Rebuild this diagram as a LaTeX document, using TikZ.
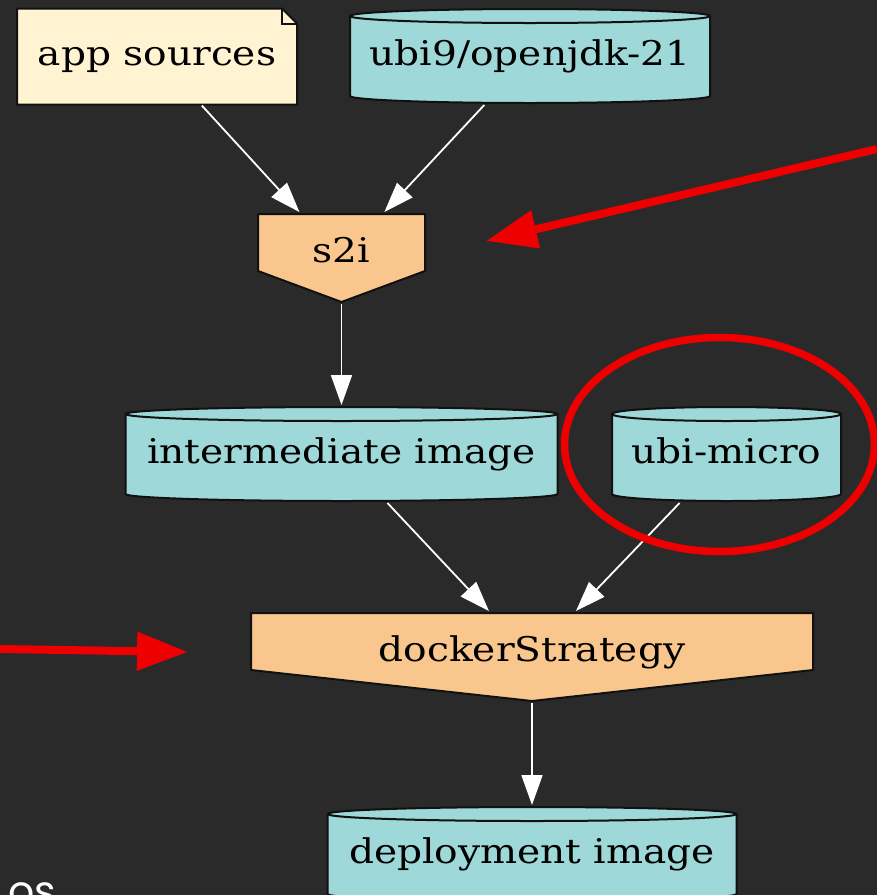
\documentclass[tikz,border=0pt]{standalone}
\usepackage{fontspec}
\setmainfont{DejaVu Serif}[FakeStretch=1.15]
\newfontfamily\captionfont{Poppins}
\usetikzlibrary{arrows.meta}

\definecolor{bgcol}{HTML}{2A2A2A}
\definecolor{imgfill}{HTML}{9FD8D8}
\definecolor{srcfill}{HTML}{FFF3D1}
\definecolor{buildfill}{HTML}{F9C78D}
\definecolor{edgecol}{HTML}{111111}
\definecolor{annot}{HTML}{EE0000}

\begin{document}
\begin{tikzpicture}[
  x=1pt, y=1pt,
  >={Triangle[length=30pt,width=21pt]},
  every node/.style={
  	inner sep=0pt,
  	outer sep=0pt,
  	text height=26pt,
  	text depth=8pt,
  	font=\fontsize{34}{40}\selectfont
  },
  image/.style={
  	minimum width=#1,
  	minimum height=98,
  	path picture={
  	  \coordinate (pp) at (path picture bounding box.center);
  	  \filldraw[fill=imgfill, draw=edgecol, line width=2]
  	    ([shift={(-#1/2+1,40)}]pp) -- ++(0,-80)
  	    arc[start angle=180, end angle=360, x radius=#1/2-1, y radius=7]
  	    -- ++(0,80)
  	    arc[start angle=0, end angle=180, x radius=#1/2-1, y radius=7] -- cycle;
  	  \draw[edgecol, line width=2] ([shift={(-#1/2+1,40)}]pp)
  	    arc[start angle=180, end angle=360, x radius=#1/2-1, y radius=7];
  	}
  },
  source/.style={
  	minimum width=#1,
  	minimum height=98,
  	path picture={
  	  \coordinate (pp) at (path picture bounding box.center);
  	  \filldraw[fill=srcfill, draw=edgecol, line width=2]
  	    ([shift={(-#1/2+1,48)}]pp) -- ++(#1-17,0) -- ++(15,-15)
  	    |- ([shift={(-#1/2+1,-48)}]pp) -- cycle;
  	  \draw[edgecol, line width=2]
  	    ([shift={(#1/2-16,48)}]pp) |- ++(15,-15);
  	}
  },
  build/.style={
  	minimum width=#1,
  	minimum height=92,
  	text depth=18pt,
  	path picture={
  	  \coordinate (pp) at (path picture bounding box.center);
  	  \filldraw[fill=buildfill, draw=edgecol, line width=2]
  	    ([shift={(-#1/2+1,44)}]pp) -- ++(#1-2,0) -- ++(0,-57)
  	    -- ([yshift=-44]pp) -- ([shift={(-#1/2+1,-13)}]pp) -- cycle;
  	}
  },
  flow/.style={
  	->,
  	white,
  	line width=1.8
  },
  marker/.style={
  	annot,
  	line width=8,
  	-{Triangle[length=51pt,width=37pt]}
  }
  ]
  \useasboundingbox (0,0) rectangle (877,-895);
  \clip (0,0) rectangle (877,-895);
  \fill[bgcol] (0,0) rectangle (877,-895);
  
  \node[source=282] (src) at (157,-56.5) {app sources};
  \node[image=362] (jdk) at (530,-56) {ubi9/openjdk-21};
  \node[build=169] (s2i) at (341.5,-258) {s2i};
  \node[image=434] (mid) at (341.5,-454) {intermediate image};
  \node[image=231] (micro) at (726.5,-454) {ubi-micro};
  \node[build=564] (docker) at (532,-657) {dockerStrategy};
  \node[image=411] (deploy) at (532,-854) {deployment image};
  
  \draw[flow] (src) -- (s2i);
  \draw[flow] (jdk) -- (s2i);
  \draw[flow] (s2i) -- (mid);
  \draw[flow] (mid) -- (docker);
  \draw[flow] (micro) -- (docker);
  \draw[flow] (docker) -- (deploy);
  
  % red hints
  \coordinate (hintr) at (877,-149);
  \coordinate (hintrtip) at (486,-241);
  \coordinate (hintl) at (0,-649);
  \coordinate (hintltip) at (188,-652);
  \draw[marker] (hintr) -- (hintrtip);
  \draw[marker] (hintl) -- (hintltip);
  \draw[annot, line width=7.5] (719.5,-444.5) ellipse[x radius=155, y radius=107];
  
  \node[anchor=base east, text=white, text height=0pt, text depth=0pt,
  	font=\captionfont\fontsize{41}{44}\selectfont] (os) at (56,-905) {os};
  
  \end{tikzpicture}
\end{document}
